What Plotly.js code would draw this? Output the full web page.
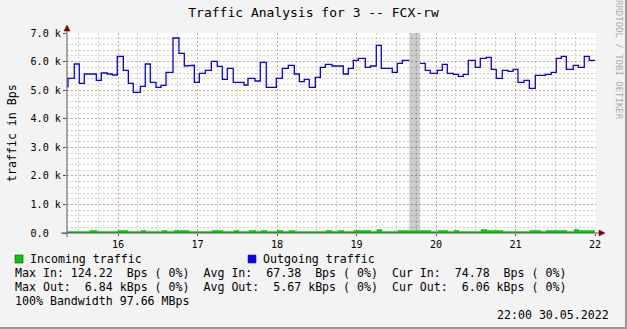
<!DOCTYPE html>
<html>
<head>
<meta charset="utf-8">
<script src="https://cdn.plot.ly/plotly-3.0.1.min.js"></script>
<style>
  html, body { margin: 0; padding: 0; background: #f3f3f3; }
  #chart { width: 627px; height: 329px; }
</style>
</head>
<body>
<div id="chart"></div>
<script>
// ---------------- DATA ----------------
const chartTitle = "Traffic Analysis for 3 -- FCX-rw";
const yAxisTitle = "traffic in Bps";
const watermark = "RRDTOOL / TOBI OETIKER";

// time in days of month (step start times)
const outTimes = [15.358,15.371,15.450,15.513,15.576,15.727,15.790,15.865,15.928,15.991,
  16.067,16.130,16.192,16.281,16.343,16.406,16.478,16.541,16.604,16.692,
  16.767,16.834,16.897,16.960,17.023,17.098,17.174,17.249,17.312,17.375,
  17.450,17.585,17.635,17.723,17.790,17.865,17.991,18.067,18.142,18.218,
  18.281,18.343,18.406,18.482,18.545,18.608,18.692,18.834,18.897,18.960,
  19.023,19.111,19.174,19.249,19.312,19.450,19.513,19.576,19.664,19.799,
  19.865,19.928,20.016,20.079,20.142,20.218,20.281,20.343,20.406,20.494,
  20.557,20.632,20.695,20.758,20.834,20.906,20.969,21.031,21.107,21.174,
  21.249,21.375,21.450,21.513,21.576,21.639,21.727,21.790,21.865,21.928];
// outgoing traffic, Bps (null = unknown)
const outValues = [5120,5415,5915,5240,5565,5345,5600,5565,5530,6185,
  5695,5240,4925,5135,5915,5275,5100,5170,5625,6825,
  6290,5845,5870,5275,5590,5695,6010,5835,5380,5765,
  5275,5180,5415,5320,5975,5100,5415,5765,5870,5565,
  5300,5380,5100,5450,5800,5905,5845,5565,5765,6045,
  6115,5800,5845,6570,5765,5625,5940,6045,null,5940,
  5695,5590,5695,5905,5590,5555,5485,5555,6045,5800,
  6115,6150,5730,5415,5695,5660,5730,5275,5345,5065,
  5520,5555,5625,6115,6185,5730,5870,5800,6185,6045];

const inTimes = [15.358,15.648,15.736,16.000,16.126,16.289,16.352,16.553,16.616,16.704,
  16.893,17.182,17.321,17.459,17.522,17.648,17.736,17.799,17.874,18.000,
  18.075,18.151,18.226,18.616,18.692,18.767,18.843,18.969,19.182,19.258,
  19.321,19.522,19.664,19.799,19.937,20.025,20.151,20.226,20.289,20.566,
  20.642,20.843,21.182,21.321,21.384,21.648,21.736,21.799];
// incoming traffic, Bps
const inValues = [55,90,55,90,55,90,55,90,55,90,
  55,90,55,90,55,90,55,90,55,90,
  55,90,55,90,55,90,55,90,55,124,
  55,90,null,90,55,90,55,90,55,124,
  90,55,90,55,90,55,124,90];

const seriesEnd = 22.0;          // end of last step
const unknownStart = [19.664];   // unknown-data spans
const unknownEnd = [19.799];

const xStart = 15.3585, xEnd = 22.0126;
const xTickVals = [16,17,18,19,20,21,22];
const xTickLabels = ["16","17","18","19","20","21","22"];
const yTickVals = [0,1000,2000,3000,4000,5000,6000,7000];
const yTickLabels = ["0.0\u00a0\u00a0","1.0 k","2.0 k","3.0 k","4.0 k","5.0 k","6.0 k","7.0 k"];

const legendIn = "Incoming traffic";
const legendOut = "Outgoing traffic";
const statLines = [
  "Max In: 124.22  Bps ( 0%)  Avg In:  67.38  Bps ( 0%)  Cur In:  74.78  Bps ( 0%)",
  "Max Out:  6.84 kBps ( 0%)  Avg Out:  5.67 kBps ( 0%)  Cur Out:  6.06 kBps ( 0%)",
  "100% Bandwidth 97.66 MBps"
];
const stampText = "22:00 30.05.2022";

// ---------------- BUILD ----------------
function steps(times, values, end) {
  const xs = [], ys = [];
  for (let i = 0; i < times.length; i++) {
    const t0 = times[i];
    const t1 = i + 1 < times.length ? times[i + 1] : end;
    const v = values[i];
    if (v === null) { xs.push(null); ys.push(null); continue; }
    xs.push(t0); ys.push(v);
    xs.push(t1); ys.push(v);
  }
  return {xs, ys};
}
const outS = steps(outTimes, outValues, seriesEnd);
const inS = steps(inTimes, inValues, seriesEnd);

const mono = "DejaVu Sans Mono";
const L = 67, T = 33, PW = 529, PH = 200;
const px = x => (x - L) / PW;
const py = y => (T + PH - y) / PH;
const sp = s => s.replace(/ /g, "\u00a0");

const traces = [
  {x: inS.xs, y: inS.ys, type: "scatter", mode: "lines", fill: "tozeroy",
   fillcolor: "#00cc00", line: {color: "#00cc00", width: 0.5}, connectgaps: false,
   name: legendIn, hoverinfo: "skip"},
  {x: outS.xs, y: outS.ys, type: "scatter", mode: "lines",
   line: {color: "#0000ff", width: 1.3}, connectgaps: false,
   name: legendOut, hoverinfo: "skip"}
];

const shapes = [];
unknownStart.forEach((s, i) => shapes.push({type: "rect", xref: "x", yref: "paper",
  x0: s, x1: unknownEnd[i], y0: 0, y1: 1, fillcolor: "#cccccc", line: {width: 0}, layer: "below"}));
// axis lines
shapes.push({type: "line", xref: "paper", yref: "paper", x0: px(61), x1: px(599), y0: 0, y1: 0,
  line: {color: "#555555", width: 1}});
shapes.push({type: "line", xref: "paper", yref: "paper", x0: 0, x1: 0, y0: py(237), y1: py(31),
  line: {color: "#555555", width: 1}});
// arrows
shapes.push({type: "path", xref: "paper", yref: "paper",
  path: `M ${px(599)} ${py(230)} L ${px(605)} ${py(233)} L ${px(599)} ${py(236)} Z`,
  fillcolor: "#7f0000", line: {color: "#7f0000", width: 0.5}});
shapes.push({type: "path", xref: "paper", yref: "paper",
  path: `M ${px(64)} ${py(31)} L ${px(67)} ${py(25)} L ${px(70)} ${py(31)} Z`,
  fillcolor: "#7f0000", line: {color: "#7f0000", width: 0.5}});
// legend boxes
shapes.push({type: "rect", xref: "paper", yref: "paper", x0: px(15), x1: px(23), y0: py(263), y1: py(255),
  fillcolor: "#00cc00", line: {color: "#333333", width: 0.6}});
shapes.push({type: "rect", xref: "paper", yref: "paper", x0: px(248), x1: px(256), y0: py(263), y1: py(255),
  fillcolor: "#0000ff", line: {color: "#333333", width: 0.6}});
// frame shading
shapes.push({type: "rect", xref: "paper", yref: "paper", x0: px(625), x1: px(627), y0: py(0), y1: py(329),
  fillcolor: "#999999", line: {width: 0}});
shapes.push({type: "rect", xref: "paper", yref: "paper", x0: px(0), x1: px(627), y0: py(327), y1: py(329),
  fillcolor: "#999999", line: {width: 0}});

const annFont = {family: mono, size: 11.6, color: "#000000"};
const annotations = [];
function ann(text, x, y, extra) {
  annotations.push(Object.assign({text: sp(text), xref: "paper", yref: "paper", x: px(x), y: py(y),
    xanchor: "left", yanchor: "middle", showarrow: false, font: annFont, borderpad: 0}, extra || {}));
}
ann(legendIn, 29, 259);
ann(legendOut, 262, 259);
statLines.forEach((s, i) => ann(s, 14, 273 + 14 * i));
ann(stampText, 610, 315, {xanchor: "right"});
ann(yAxisTitle, 12, 133, {xanchor: "center", textangle: -90});
ann(watermark, 619, 60, {xanchor: "center", textangle: 90,
  font: {family: mono, size: 9, color: "#aaaaaa"}});

const layout = {
  width: 627, height: 329,
  margin: {l: L, r: 627 - L - PW, t: T, b: 329 - T - PH, pad: 0},
  paper_bgcolor: "#f3f3f3", plot_bgcolor: "#ffffff",
  showlegend: false,
  title: {text: chartTitle, font: {family: mono, size: 13, color: "#000000"},
    x: 0.5, xref: "container", xanchor: "center", y: 1 - 12 / 329, yref: "container", yanchor: "middle"},
  xaxis: {range: [xStart, xEnd], tickmode: "array", tickvals: xTickVals, ticktext: xTickLabels,
    showgrid: true, gridcolor: "rgba(255,0,0,0.25)", griddash: "2px,2px", gridwidth: 1,
    minor: {tick0: 16, dtick: 0.25, showgrid: true, gridcolor: "rgba(0,0,0,0.18)", griddash: "2px,2px", gridwidth: 1},
    zeroline: false, showline: false, ticks: "outside", ticklen: 2, tickcolor: "#555555",
    tickfont: {family: mono, size: 10.15, color: "#000000"}, fixedrange: true},
  yaxis: {range: [0, 7000], tickmode: "array", tickvals: yTickVals, ticktext: yTickLabels,
    showgrid: true, gridcolor: "rgba(255,0,0,0.25)", griddash: "2px,2px", gridwidth: 1,
    minor: {tick0: 0, dtick: 200, showgrid: true, gridcolor: "rgba(0,0,0,0.18)", griddash: "2px,2px", gridwidth: 1},
    zeroline: false, showline: false, ticks: "outside", ticklen: 3, tickcolor: "#555555",
    tickfont: {family: mono, size: 10.15, color: "#000000"}, fixedrange: true},
  shapes: shapes,
  annotations: annotations
};

Plotly.newPlot("chart", traces, layout, {displayModeBar: false, staticPlot: true});
</script>
</body>
</html>
